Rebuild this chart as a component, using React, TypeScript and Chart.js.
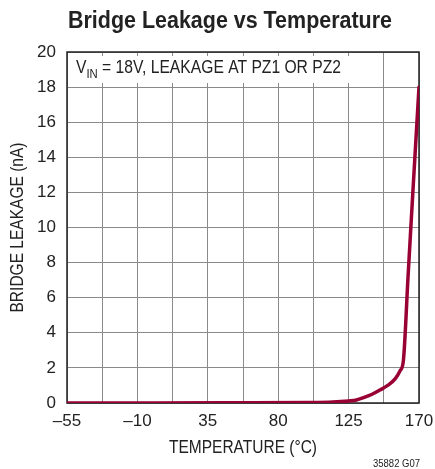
import React, { useEffect, useRef } from "react";
import { Chart, registerables } from "chart.js";

Chart.register(...registerables);

const temperatures = [-55, 0, 50, 100, 115, 125, 130, 135, 140, 145, 150, 155, 158, 160, 163, 166, 170];
const leakage = [0, 0, 0.01, 0.03, 0.06, 0.12, 0.17, 0.32, 0.5, 0.74, 1.0, 1.4, 1.85, 2.4, 7.2, 11.9, 18];
const xGridValues = [-55, -32.5, -10, 12.5, 35, 57.5, 80, 102.5, 125, 147.5, 170];
const xTickLabels: Record<string, string> = {
  "-55": "\u201355",
  "-10": "\u201310",
  "35": "35",
  "80": "80",
  "125": "125",
  "170": "170",
};
const chartTitle = "Bridge Leakage vs Temperature";
const xTitle = "TEMPERATURE (\u00B0C)";
const yTitle = "BRIDGE LEAKAGE (nA)";
const noteMain = "V";
const noteSub = "IN";
const noteRest = " = 18V, LEAKAGE AT PZ1 OR PZ2";
const footnote = "35882 G07";

const SANS = '"Liberation Sans", Arial, sans-serif';
const TEXT = "#222";

// draw text horizontally squeezed to a target width (condensed look)
function fitText(ctx: any, text: string, left: number, y: number, width: number) {
  const w = ctx.measureText(text).width;
  const s = width / w;
  ctx.save();
  ctx.translate(left, y);
  ctx.scale(s, 1);
  ctx.textAlign = "left";
  ctx.fillText(text, 0, 0);
  ctx.restore();
}

const overlay = {
  id: "overlay",
  beforeDatasetsDraw(chart: any) {
    const { ctx, chartArea: a } = chart;
    ctx.save();
    ctx.fillStyle = "#fff";
    ctx.fillRect(a.left + 1, a.top + 4, 281, 27);
    ctx.fillStyle = TEXT;
    ctx.textBaseline = "alphabetic";
    // annotation with subscript, squeezed to fit 76..341
    ctx.font = `18px ${SANS}`;
    const wMain = ctx.measureText(noteMain).width;
    const wRest = ctx.measureText(noteRest).width;
    ctx.font = `13px ${SANS}`;
    const wSub = ctx.measureText(noteSub).width;
    const s = (341 - 76) / (wMain + wSub + wRest);
    ctx.save();
    ctx.translate(76, 0);
    ctx.scale(s, 1);
    ctx.textAlign = "left";
    ctx.font = `18px ${SANS}`;
    ctx.fillText(noteMain, 0, 73);
    ctx.font = `13px ${SANS}`;
    ctx.fillText(noteSub, wMain, 78);
    ctx.font = `18px ${SANS}`;
    ctx.fillText(noteRest, wMain + wSub, 73);
    ctx.restore();
    // frame
    ctx.strokeStyle = "#222";
    ctx.lineWidth = 1.5;
    ctx.strokeRect(a.left, a.top, a.right - a.left, a.bottom - a.top);
    ctx.restore();
  },
  afterDraw(chart: any) {
    const { ctx, chartArea: a } = chart;
    ctx.save();
    ctx.fillStyle = TEXT;
    ctx.textBaseline = "alphabetic";
    ctx.font = `bold 23px ${SANS}`;
    fitText(ctx, chartTitle, 68, 28, 324);
    ctx.font = `18px ${SANS}`;
    const cx = (a.left + a.right) / 2;
    fitText(ctx, xTitle, cx - 74, 453, 148);
    ctx.save();
    ctx.translate(23, (a.top + a.bottom) / 2);
    ctx.rotate(-Math.PI / 2);
    fitText(ctx, yTitle, -85, 0, 170);
    ctx.restore();
    ctx.font = `11px ${SANS}`;
    fitText(ctx, footnote, 373, 467, 47);
    ctx.restore();
  },
};

export default function App() {
  const ref = useRef<HTMLCanvasElement | null>(null);
  useEffect(() => {
    document.body.style.margin = "0";
    const canvas = ref.current!;
    const chart = new Chart(canvas, {
      type: "line",
      data: {
        datasets: [
          {
            data: temperatures.map((t, i) => ({ x: t, y: leakage[i] })),
            borderColor: "#990033",
            borderWidth: 3.5,
            pointRadius: 0,
            cubicInterpolationMode: "monotone",
            borderCapStyle: "round",
            borderJoinStyle: "round",
          },
        ],
      },
      options: {
        animation: false,
        responsive: false,
        layout: { padding: { left: 0, right: 16, top: 52, bottom: 0 } },
        plugins: { legend: { display: false }, tooltip: { enabled: false }, title: { display: false } },
        scales: {
          x: {
            type: "linear",
            min: -55,
            max: 170,
            afterBuildTicks: (s: any) => {
              s.ticks = xGridValues.map((v) => ({ value: v }));
            },
            afterFit: (s: any) => {
              s.height = 66;
              s.paddingLeft = 0;
              s.paddingRight = 0;
            },
            grid: { color: "#8a8a8a", lineWidth: 1, drawTicks: false },
            border: { display: false },
            ticks: {
              autoSkip: false,
              maxRotation: 0,
              padding: 8,
              color: TEXT,
              font: { family: SANS, size: 17 },
              callback: (v: any) => xTickLabels[String(v)] ?? "",
            },
          },
          y: {
            min: 0,
            max: 20,
            afterFit: (s: any) => {
              s.width = 67;
              s.paddingTop = 0;
              s.paddingBottom = 0;
            },
            grid: { color: "#8a8a8a", lineWidth: 1, drawTicks: false },
            border: { display: false },
            ticks: {
              stepSize: 2,
              padding: 11,
              color: TEXT,
              font: { family: SANS, size: 17 },
            },
          },
        },
      },
      plugins: [overlay],
    } as any);
    return () => chart.destroy();
  }, []);
  return <canvas ref={ref} width={435} height={469} style={{ display: "block" }} />;
}
